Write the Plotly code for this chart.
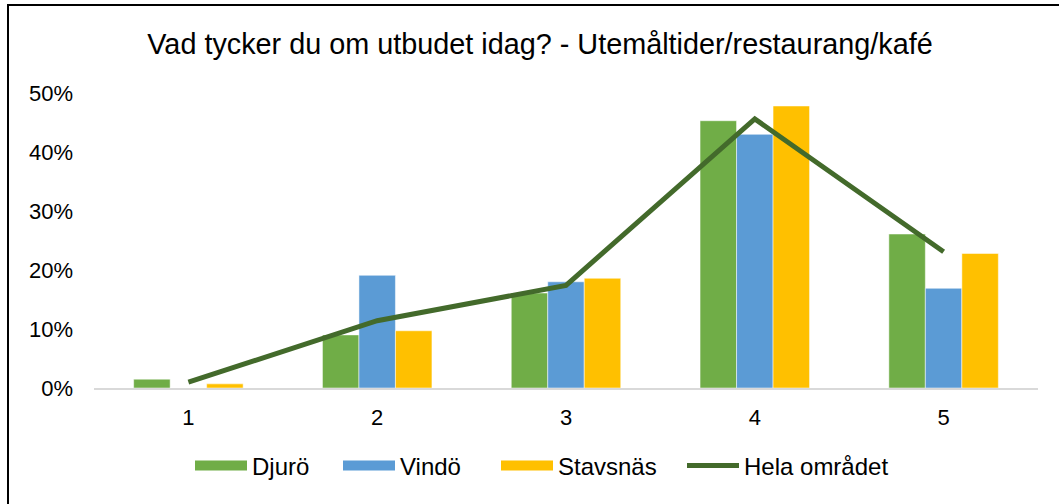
import plotly.graph_objects as go

categories = ["1", "2", "3", "4", "5"]
djuro = [0.015, 0.090, 0.161, 0.453, 0.261]
vindo = [0.0, 0.191, 0.180, 0.430, 0.169]
stavsnas = [0.007, 0.097, 0.186, 0.478, 0.228]
hela = [0.010, 0.114, 0.174, 0.456, 0.231]

title_text = "Vad tycker du om utbudet idag? - Utemåltider/restaurang/kafé"
series_names = ["Djurö", "Vindö", "Stavsnäs", "Hela området"]
colors = ["#70AD47", "#5B9BD5", "#FFC000", "#436A2B"]

FONT = "Liberation Sans, Arial, sans-serif"

# legend entry positions (px, legend box left edge)
legend_x = [190, 338, 496, 682]
legend_ids = ["legend", "legend2", "legend3", "legend4"]

fig = go.Figure()
for i, (name, vals, col) in enumerate(zip(series_names[:3], [djuro, vindo, stavsnas], colors[:3])):
    fig.add_trace(go.Bar(x=categories, y=vals, name=name, marker_color=col,
                         marker_line=dict(color="rgba(255,255,255,0.5)", width=1),
                         showlegend=False, legendgroup=name))
    # legend swatch (wide rectangle like Excel)
    fig.add_trace(go.Scatter(x=[None], y=[None], mode="lines", name=name,
                             line=dict(color=col, width=15), legendgroup=name,
                             legend=legend_ids[i]))

fig.add_trace(go.Scatter(x=categories, y=hela, mode="lines", name=series_names[3],
                         line=dict(color=colors[3], width=5), legend=legend_ids[3]))

W0, W1 = 94, 1038
T0, B0 = 93, 388

def px_x(p):
    return (p - W0) / (W1 - W0)

def px_y(p):
    return (B0 - p) / (B0 - T0)

fig.add_shape(type="rect", xref="paper", yref="paper",
              x0=px_x(8), x1=px_x(1062), y0=px_y(512), y1=px_y(5),
              line=dict(color="#000000", width=2), fillcolor="rgba(0,0,0,0)", layer="above")

legend_common = dict(orientation="h", xref="container", yref="container",
                     xanchor="left", y=1 - 466 / 504, yanchor="middle",
                     itemwidth=52, font=dict(size=24), bgcolor="rgba(0,0,0,0)")

fig.update_layout(
    width=1059, height=504,
    margin=dict(l=W0, r=1059 - W1, t=T0, b=504 - B0),
    paper_bgcolor="white", plot_bgcolor="white",
    barmode="group", bargap=0.42, bargroupgap=0,
    font=dict(family=FONT, color="#000000", size=22),
    title=dict(text=title_text, x=540 / 1059, xanchor="center", y=1 - 44 / 504,
               yanchor="middle", yref="container", font=dict(size=28.8, color="#000000")),
    xaxis=dict(type="category", showgrid=False, showline=True, linecolor="#D9D9D9",
               linewidth=2, ticks="", tickfont=dict(size=22), ticklabelstandoff=9),
    yaxis=dict(range=[0, 0.5], tickvals=[0, 0.1, 0.2, 0.3, 0.4, 0.5], tickformat=".0%",
               showgrid=False, zeroline=False, showline=False, ticks="",
               tickfont=dict(size=22), ticklabelstandoff=20),
)
for lid, lx in zip(legend_ids, legend_x):
    fig.update_layout({lid: dict(legend_common, x=lx / 1059)})

fig.write_html("out.html", config={"displayModeBar": False},
               post_script="document.body.style.margin='0';document.body.style.overflow='hidden';")
